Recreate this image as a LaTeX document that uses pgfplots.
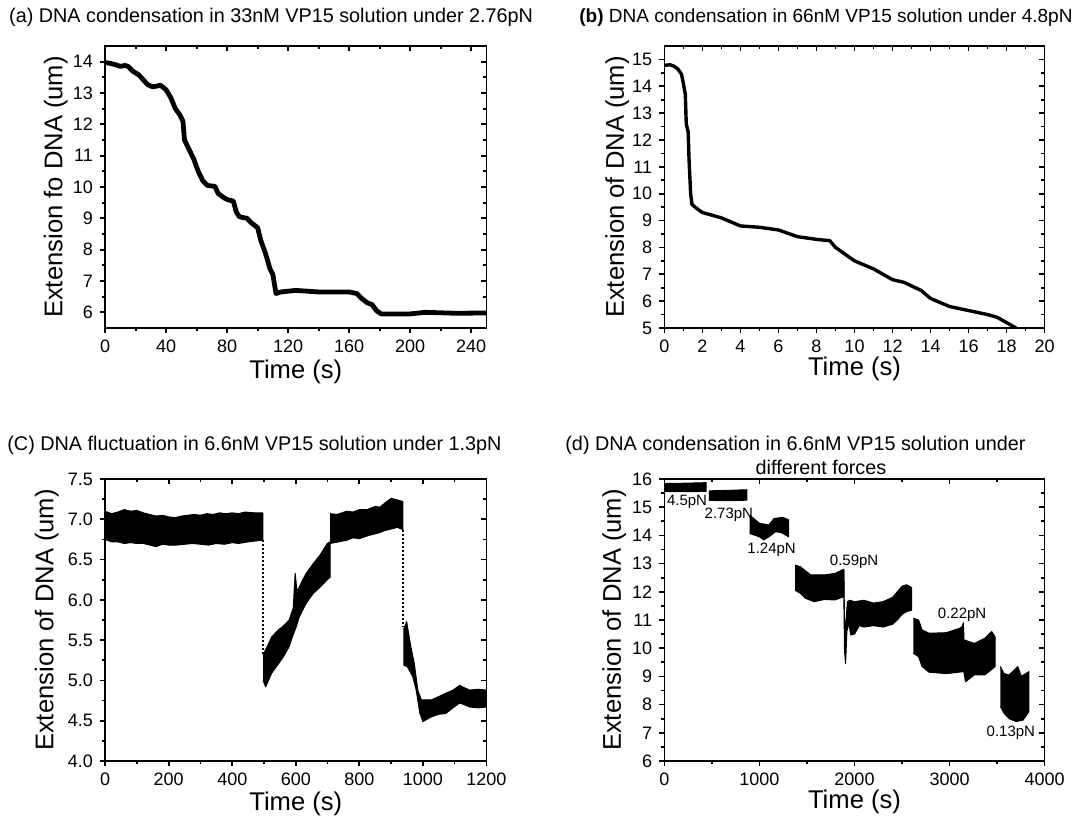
\documentclass[border=0pt]{standalone}
\usepackage{fontspec}
\setmainfont{Liberation Sans}
\usepackage{pgfplots}
\pgfplotsset{compat=1.18}
\begin{document}
\begin{tikzpicture}
\useasboundingbox (0pt,0pt) rectangle (546pt,410.5pt);
\pgfplotsset{
  panel/.style={scale only axis, anchor=south west,
    axis line style={line width=0.85pt},
    major tick style={line width=0.85pt, black},
    minor tick style={line width=0.85pt, black},
    major tick length=2.6pt, minor tick length=1.6pt,
    tick label style={font=\fontsize{9}{10}\selectfont},
    /pgf/number format/assume math mode=true,
    /pgf/number format/1000 sep={},
    scaled ticks=false,
    minor x tick num=1, minor y tick num=1,
    xlabel style={font=\fontsize{12.8}{14}\selectfont, anchor=center},
    ylabel style={font=\fontsize{12.8}{14}\selectfont, anchor=center},
  },
  lowleft/.style={xtick pos=left, ytick pos=left, tick align=outside},
  upright/.style={xtick pos=right, ytick pos=right, tick align=inside, xticklabels={}, yticklabels={}},
  pa/.style={at={(52.6pt,246.5pt)}, width=190.6pt, height=141pt, xmin=0, xmax=250, ymin=5.5, ymax=14.5, xtick={0,40,...,240}, ytick={6,...,14}},
  pb/.style={at={(332.2pt,246.5pt)}, width=190.1pt, height=141pt, xmin=0, xmax=20, ymin=5, ymax=15.5, xtick={0,2,...,20}, ytick={5,...,15}},
  pc/.style={at={(52.6pt,30pt)}, width=190.6pt, height=141pt, xmin=0, xmax=1200, ymin=4, ymax=7.5, xtick={0,200,...,1200}, ytick={4,4.5,...,7.5}, yticklabel style={/pgf/number format/.cd, fixed, fixed zerofill, precision=1}},
  pd/.style={at={(332.2pt,30pt)}, width=190.1pt, height=141pt, xmin=0, xmax=4000, ymin=6, ymax=16, xtick={0,1000,...,4000}, ytick={6,...,16}},
  band/.style={fill=black, draw=black, line width=0.5pt, line join=round},
}
% ---------- titles
\node[anchor=base west, font=\fontsize{9.9}{11}\selectfont, inner sep=0pt] at (4.4pt,399pt) {(a) DNA condensation in 33nM VP15 solution under 2.76pN};
\node[anchor=base west, font=\fontsize{9.5}{11}\selectfont, inner sep=0pt] at (289.5pt,399pt) {\textbf{(b)} DNA condensation in 66nM VP15 solution under 4.8pN};
\node[anchor=base west, font=\fontsize{9.9}{11}\selectfont, inner sep=0pt] at (3.5pt,185.5pt) {(C) DNA fluctuation in 6.6nM VP15 solution under 1.3pN};
\node[anchor=base west, font=\fontsize{9.9}{11}\selectfont, inner sep=0pt] at (282.5pt,185.5pt) {(d) DNA condensation in 6.6nM VP15 solution under};
\node[anchor=base, font=\fontsize{9.9}{11}\selectfont, inner sep=0pt] at (410.5pt,173.5pt) {different forces};

% ---------- (a)
\begin{axis}[panel, lowleft, pa, xlabel={Time (s)}, ylabel={Extension fo DNA (um)},
  xlabel style={at={(axis description cs:0.5,-0.156)}}, ylabel style={at={(axis description cs:-0.13,0.5)}}]
\addplot[black, line width=2.4pt, line join=round] coordinates {
(0,13.97) (3,13.95) (7,13.9) (10,13.85) (13,13.88) (15,13.85) (18,13.7) (22,13.58) (25,13.42) (28,13.26) (31,13.2) (34,13.22) (36,13.25) (38,13.18) (40,13.1) (43,12.85) (46,12.5) (49,12.3) (51,12.1) (52,11.5) (55,11.2) (58,10.9) (61,10.5) (64,10.2) (67,10.05) (72,10.02) (74,9.8) (78,9.65) (80,9.6) (84,9.55) (86,9.2) (88,9.05) (93,9.0) (96,8.85) (100,8.7) (102,8.3) (105,7.9) (108,7.4) (110,7.2) (112,6.6) (115,6.65) (125,6.7) (140,6.65) (160,6.65) (165,6.6) (168,6.45) (172,6.3) (175,6.25) (178,6.05) (181,5.95) (200,5.95) (210,6.0) (230,5.97) (250,5.98)};
\end{axis}
\begin{axis}[panel, upright, pa]\end{axis}

% ---------- (b)
\begin{axis}[panel, lowleft, pb, xlabel={Time (s)}, ylabel={Extension of DNA (um)},
  xlabel style={at={(axis description cs:0.5,-0.146)}}, ylabel style={at={(axis description cs:-0.124,0.5)}}]
\addplot[black, line width=1.7pt, line join=round] coordinates {
(0,14.78) (0.3,14.8) (0.5,14.75) (0.7,14.65) (0.9,14.45) (1.0,14.1) (1.1,13.7) (1.15,12.6) (1.25,12.3) (1.3,11.2) (1.38,10.0) (1.45,9.6) (1.7,9.45) (2.0,9.3) (2.5,9.2) (3,9.1) (3.5,8.95) (4,8.8) (5,8.75) (6,8.65) (7,8.4) (8,8.3) (8.7,8.25) (9,8.0) (10,7.5) (11,7.2) (12,6.8) (12.6,6.7) (13.5,6.4) (14,6.1) (15,5.8) (16,5.65) (17,5.5) (17.5,5.4) (18,5.2) (18.5,5.0)};
\end{axis}
\begin{axis}[panel, upright, pb]\end{axis}

% ---------- (c)
\begin{axis}[panel, lowleft, pc, xlabel={Time (s)}, ylabel={Extension of DNA (um)},
  xlabel style={at={(axis description cs:0.5,-0.152)}}, ylabel style={at={(axis description cs:-0.153,0.5)}}]
\addplot[band] coordinates {
(0,7.1) (20,7.07) (40,7.09) (60,7.12) (80,7.1) (100,7.11) (120,7.08) (140,7.06) (160,7.04) (180,7.05) (200,7.03) (220,7.02) (240,7.04) (260,7.05) (280,7.06) (300,7.05) (320,7.07) (340,7.06) (360,7.08) (380,7.07) (400,7.08) (420,7.07) (440,7.09) (470,7.08) (496,7.08)
(496,6.74) (470,6.73) (450,6.72) (420,6.7) (400,6.71) (375,6.69) (350,6.7) (325,6.68) (300,6.69) (275,6.7) (250,6.69) (225,6.68) (200,6.68) (180,6.69) (160,6.66) (140,6.68) (120,6.7) (100,6.7) (80,6.71) (60,6.7) (40,6.72) (20,6.72) (0,6.75)};
\addplot[band] coordinates {
(497,5.32) (510,5.42) (524,5.54) (546,5.63) (562,5.68) (579,5.75) (592,5.9) (598,6.33) (604,6.1) (611,6.16) (622,6.25) (633,6.33) (655,6.45) (677,6.56) (699,6.7) (708,6.72)
(708,6.28) (699,6.25) (677,6.16) (655,6.08) (633,5.96) (611,5.79) (600,5.65) (590,5.55) (579,5.42) (562,5.3) (546,5.21) (524,5.09) (505,4.92) (497,5.0)};
\addplot[band] coordinates {
(708,7.07) (730,7.06) (760,7.1) (780,7.09) (800,7.12) (825,7.12) (850,7.16) (865,7.15) (880,7.2) (900,7.26) (920,7.24) (937,7.22)
(937,6.87) (920,6.9) (900,6.88) (880,6.86) (860,6.83) (830,6.8) (800,6.76) (780,6.77) (760,6.74) (735,6.72) (708,6.7)};
\addplot[band] coordinates {
(939,5.63) (949,5.73) (962,5.42) (973,5.21) (984,4.88) (995,4.76) (1028,4.76) (1050,4.8) (1072,4.84) (1095,4.88) (1116,4.94) (1130,4.91) (1148,4.88) (1175,4.89) (1200,4.88)
(1200,4.67) (1175,4.66) (1148,4.67) (1130,4.7) (1116,4.72) (1095,4.66) (1072,4.59) (1050,4.58) (1028,4.55) (1000,4.49) (990,4.6) (979,4.88) (968,5.05) (951,5.17) (939,5.19)};
\addplot[black, line width=1pt, densely dotted] coordinates {(496,6.74) (496,5.32)};
\addplot[black, line width=1pt, densely dotted] coordinates {(938,6.87) (938,5.67)};
\end{axis}
\begin{axis}[panel, upright, pc]\end{axis}

% ---------- (d)
\begin{axis}[panel, lowleft, pd, xlabel={Time (s)}, ylabel={Extension of DNA (um)},
  xlabel style={at={(axis description cs:0.5,-0.145)}}, ylabel style={at={(axis description cs:-0.132,0.5)}}]
\addplot[band] coordinates {(0,15.84) (200,15.85) (440,15.87) (440,15.56) (200,15.55) (0,15.55)};
\addplot[band] coordinates {(469,15.58) (700,15.6) (868,15.62) (868,15.25) (700,15.23) (469,15.24)};
\addplot[band] coordinates {(897,14.72) (1000,14.43) (1099,14.37) (1154,14.6) (1245,14.64) (1308,14.55)
(1308,13.95) (1230,14.1) (1170,14.13) (1099,13.95) (1044,13.84) (1000,13.95) (897,14.07)};
\addplot[band] coordinates {(1374,12.95) (1429,12.89) (1539,12.6) (1685,12.6) (1795,12.65) (1868,12.77) (1888,12.8)
(1888,11.83) (1795,11.71) (1685,11.73) (1576,11.65) (1484,11.77) (1429,11.95) (1374,12.06)};
\addplot[band] coordinates {(1888,12.75) (1897,10.5) (1912,11.0) (1925,11.65) (1950,11.7) (2000,11.65) (2100,11.7) (2200,11.6) (2300,11.65) (2400,11.8) (2450,12.0) (2500,12.2) (2550,12.25) (2600,12.15)
(2600,11.35) (2550,11.3) (2500,11.2) (2450,11.0) (2400,10.85) (2300,10.75) (2200,10.8) (2100,10.75) (2050,10.8) (2000,10.5) (1960,10.47) (1940,10.9) (1920,10.6) (1906,9.46) (1895,9.9) (1888,11.8)};
\addplot[band] coordinates {(2619,11.06) (2674,11.0) (2711,10.65) (2784,10.53) (2967,10.55) (3100,10.7) (3132,10.76) (3145,10.9) (3150,10.5)
(3150,9.17) (2967,9.1) (2784,9.15) (2711,9.35) (2674,9.7) (2619,9.82)};
\addplot[band] coordinates {(3150,10.3) (3260,10.17) (3370,10.35) (3443,10.59) (3480,10.4)
(3480,9.35) (3370,9.05) (3260,9.05) (3168,8.81) (3150,9.17)};
\addplot[band] coordinates {(3535,9.35) (3572,9.1) (3627,9.05) (3718,9.35) (3755,9.0) (3835,9.17)
(3835,7.75) (3773,7.45) (3700,7.4) (3627,7.5) (3572,7.7) (3535,7.93)};
\node[font=\fontsize{7.5}{9}\selectfont, inner sep=0pt] at (axis cs:238,15.2) {4.5pN};
\node[font=\fontsize{7.5}{9}\selectfont, inner sep=0pt] at (axis cs:678,14.72) {2.73pN};
\node[font=\fontsize{7.5}{9}\selectfont, inner sep=0pt] at (axis cs:1128,13.5) {1.24pN};
\node[font=\fontsize{7.5}{9}\selectfont, inner sep=0pt] at (axis cs:1996,13.05) {0.59pN};
\node[font=\fontsize{7.5}{9}\selectfont, inner sep=0pt] at (axis cs:3132,11.2) {0.22pN};
\node[font=\fontsize{7.5}{9}\selectfont, inner sep=0pt] at (axis cs:3645,7.0) {0.13pN};
\end{axis}
\begin{axis}[panel, upright, pd]\end{axis}
\end{tikzpicture}
\end{document}
